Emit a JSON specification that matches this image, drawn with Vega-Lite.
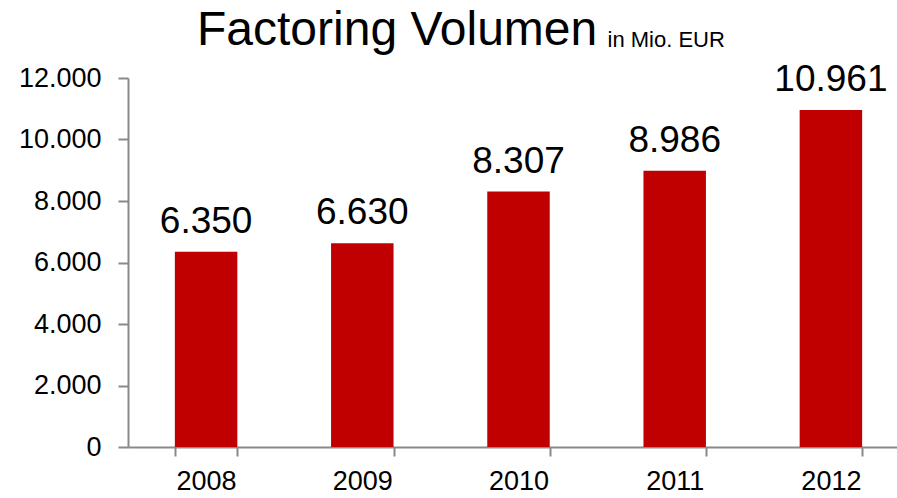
{
  "$schema": "https://vega.github.io/schema/vega-lite/v6.json",
  "autosize": "none",
  "width": 781,
  "height": 369,
  "padding": {"left": 128, "top": 78, "right": 0, "bottom": 51},
  "background": "white",
  "config": {
    "locale": {"number": {"decimal": ",", "thousands": ".", "grouping": [3], "currency": ["", " €"]}},
    "view": {"stroke": null},
    "font": "Liberation Sans"
  },
  "title": {
    "text": "Factoring Volumen",
    "anchor": "start",
    "frame": "group",
    "dx": 69,
    "dy": 97,
    "fontSize": 48,
    "fontWeight": "normal",
    "font": "Liberation Sans",
    "color": "black",
    "baseline": "alphabetic",
    "offset": 32
  },
  "data": {
    "values": [
      {"year": "2008", "value": 6350},
      {"year": "2009", "value": 6630},
      {"year": "2010", "value": 8307},
      {"year": "2011", "value": 8986},
      {"year": "2012", "value": 10961}
    ]
  },
  "encoding": {
    "x": {
      "field": "year",
      "type": "ordinal",
      "scale": {"paddingInner": 0.6, "paddingOuter": 0.3},
      "axis": {
        "title": null,
        "labelAngle": 0,
        "labelFontSize": 27,
        "labelColor": "black",
        "labelPadding": 12,
        "tickBand": "extent",
        "tickSize": 9,
        "tickColor": "#898989",
        "tickWidth": 2,
        "domainColor": "#898989",
        "domainWidth": 2
      }
    },
    "y": {
      "field": "value",
      "type": "quantitative",
      "scale": {"domain": [0, 12000], "nice": false},
      "axis": {
        "values": [0, 2000, 4000, 6000, 8000, 10000, 12000],
        "format": ",d",
        "grid": false,
        "labelFontSize": 27,
        "labelColor": "black",
        "labelPadding": 17,
        "tickSize": 10,
        "tickColor": "#898989",
        "tickWidth": 2,
        "domainColor": "#898989",
        "domainWidth": 2,
        "title": "in Mio. EUR",
        "titleAngle": 0,
        "titleX": 479,
        "titleY": -32,
        "titleAlign": "left",
        "titleBaseline": "alphabetic",
        "titleFontSize": 22,
        "titleFontWeight": "normal",
        "titleColor": "black"
      }
    }
  },
  "layer": [
    {"mark": {"type": "bar", "color": "#C00000"}},
    {
      "mark": {"type": "text", "baseline": "alphabetic", "dy": -19, "fontSize": 37, "color": "black"},
      "encoding": {"text": {"field": "value", "type": "quantitative", "format": ",d"}}
    }
  ]
}
